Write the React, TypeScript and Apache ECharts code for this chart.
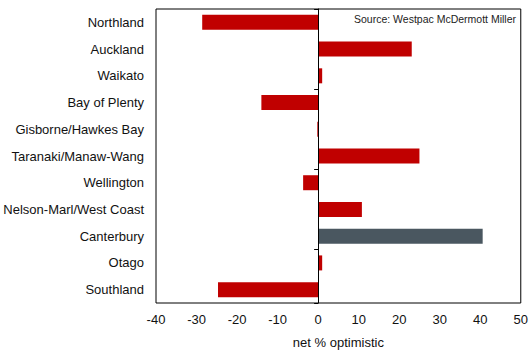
import React, { useEffect, useRef } from "react";
import * as echarts from "echarts";

const regions = [
  "Northland",
  "Auckland",
  "Waikato",
  "Bay of Plenty",
  "Gisborne/Hawkes Bay",
  "Taranaki/Manaw-Wang",
  "Wellington",
  "Nelson-Marl/West Coast",
  "Canterbury",
  "Otago",
  "Southland",
];
const netOptimistic = [-28.6, 23.1, 1.0, -14.0, -0.2, 25.0, -3.7, 10.8, 40.6, 1.0, -24.7];
const highlighted = "Canterbury";
const xTicks = { min: -40, max: 50, interval: 10 };

export default function App() {
  const ref = useRef<HTMLDivElement>(null);
  useEffect(() => {
    if (!ref.current) return;
    const chart = echarts.init(ref.current, undefined, { renderer: "svg" });
    const font = "Liberation Sans, Arial, sans-serif";
    chart.setOption({
      animation: false,
      grid: { left: 156, top: 9, right: 9, bottom: 47, show: true, borderColor: "#000", borderWidth: 1, backgroundColor: "#fff" },
      xAxis: {
        type: "value",
        min: xTicks.min,
        max: xTicks.max,
        interval: xTicks.interval,
        splitLine: { show: false },
        axisLine: { show: false },
        axisTick: { show: false },
        axisLabel: { color: "#111", fontSize: 13, fontFamily: font, margin: 10 },
        name: "net % optimistic",
        nameLocation: "middle",
        nameGap: 33,
        nameTextStyle: { color: "#111", fontSize: 13, fontFamily: font },
      },
      yAxis: [
        {
          type: "category",
          data: regions,
          inverse: true,
          axisLine: { show: false, onZero: false },
          axisTick: { show: false },
          axisLabel: { color: "#111", fontSize: 13, fontFamily: font, margin: 12 },
        },
        {
          type: "category",
          data: regions,
          inverse: true,
          position: "left",
          axisLine: { show: true, onZero: true, lineStyle: { color: "#000", width: 1 } },
          axisTick: { show: true, interval: 2, length: 4, lineStyle: { color: "#000", width: 1 } },
          axisLabel: { show: false },
          z: 5,
        },
      ],
      series: [
        {
          type: "bar",
          yAxisIndex: 0,
          barWidth: 15,
          data: netOptimistic.map((v, i) => ({
            value: v,
            itemStyle: { color: regions[i] === highlighted ? "#4A5760" : "#C00000" },
          })),
          z: 1,
        },
      ],
      graphic: [
        {
          type: "text",
          right: 15,
          top: 13,
          style: {
            text: "Source: Westpac McDermott Miller",
            fill: "#222",
            fontSize: 10.5,
            fontFamily: font,
          },
        },
      ],
    });
    return () => chart.dispose();
  }, []);
  return <div ref={ref} style={{ position: "fixed", left: 0, top: 0, width: 531, height: 354, background: "#fff" }} />;
}
